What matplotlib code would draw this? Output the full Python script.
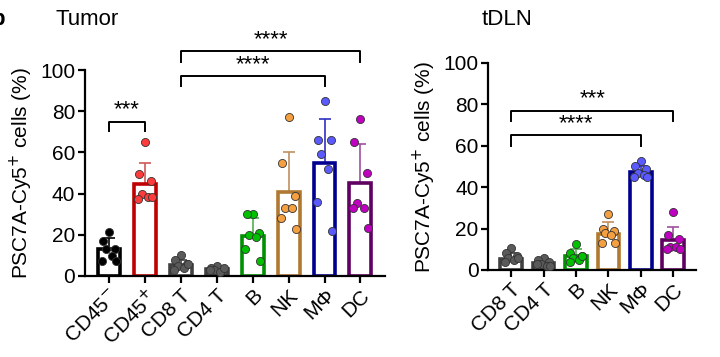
import numpy as np
import matplotlib
matplotlib.use("Agg")
import matplotlib.pyplot as plt

plt.rcParams["font.family"] = ["Liberation Sans", "DejaVu Sans"]

# ---- Tumor panel ----
tumor_cats = ["CD45$^{-}$", "CD45$^{+}$", "CD8 T", "CD4 T", "B", "NK", "MΦ", "DC"]
tumor_mean = [13, 44.5, 5.5, 3.5, 19.5, 41, 55, 45]
tumor_sd = [5.5, 10.3, 2.5, 1.2, 8.7, 19, 21, 19.3]
tumor_pts = [
    [21.5, 17, 13, 13, 9.5, 7.5, 7.5],
    [65, 49.5, 46, 40, 38.5, 37.5, 38.5],
    [10, 8, 6, 5, 4, 3, 6],
    [5, 4, 3, 3, 2, 3, 4],
    [30, 30, 21, 20, 19, 13, 7.5],
    [77, 55, 39, 33, 33, 28, 23],
    [85, 66, 66, 59, 52, 36, 22],
    [76, 65, 50, 35.5, 33, 33, 23.5],
]

# ---- tDLN panel ----
dln_cats = ["CD8 T", "CD4 T", "B", "NK", "MΦ", "DC"]
dln_mean = [5.5, 3.5, 7, 17.5, 47.5, 14.5]
dln_sd = [2.5, 1.5, 3, 5.5, 2.5, 6.5]
dln_pts = [
    [10.5, 8, 7, 6, 5, 4, 6],
    [6, 5, 4, 3, 2, 3, 2],
    [12.5, 8, 7, 6, 5, 4, 7],
    [27, 20, 19, 18, 17, 13, 13],
    [52.5, 50, 49, 47, 46, 45, 45],
    [28, 17, 15, 11, 11, 10, 10],
]

edge = {"CD45-": "#000000", "CD45+": "#c00000", "CD8 T": "#404040", "CD4 T": "#404040",
        "B": "#009000", "NK": "#b07830", "MΦ": "#000090", "DC": "#600060"}
face = {"CD45-": "#000000", "CD45+": "#ff3c3c", "CD8 T": "#5a5a5a", "CD4 T": "#5a5a5a",
        "B": "#00c000", "NK": "#f5a040", "MΦ": "#5a5aff", "DC": "#c000c0"}
errc = {"CD45-": "#000000", "CD45+": "#d05858", "CD8 T": "#404040", "CD4 T": "#404040",
        "B": "#50b050", "NK": "#c09060", "MΦ": "#3030c0", "DC": "#a050a0"}

tumor_keys = ["CD45-", "CD45+", "CD8 T", "CD4 T", "B", "NK", "MΦ", "DC"]
dln_keys = ["CD8 T", "CD4 T", "B", "NK", "MΦ", "DC"]

fig = plt.figure(figsize=(7.2, 3.57), dpi=100)
ax1 = fig.add_axes([0.118, 0.2269, 0.417, 0.577])
ax2 = fig.add_axes([0.678, 0.2437, 0.289, 0.580])


def draw(ax, keys, labels, means, sds, pts, width, xlim):
    x = np.arange(len(keys))
    for i, k in enumerate(keys):
        ax.bar(x[i], means[i], width=width, facecolor="white", edgecolor=edge[k],
               linewidth=2.6, zorder=2)
        ax.errorbar(x[i], means[i], yerr=sds[i], color=errc[k], capsize=4.5,
                    elinewidth=1.2, capthick=1.2, zorder=1)
        n = len(pts[i])
        offs = np.array([0.0, -0.17, 0.17, -0.09, 0.09, -0.2, 0.2])[:n]
        ax.scatter(x[i] + offs, pts[i], s=34, color=face[k], edgecolor="#333333",
                   linewidth=0.6, zorder=3, clip_on=False)
    ax.set_xlim(*xlim)
    ax.set_ylim(0, 100)
    ax.set_yticks([0, 20, 40, 60, 80, 100])
    ax.set_xticks(x)
    ax.set_xticklabels(labels, rotation=45, ha="right", rotation_mode="anchor")
    for s in ["top", "right"]:
        ax.spines[s].set_visible(False)
    for s in ["left", "bottom"]:
        ax.spines[s].set_linewidth(1.6)
    ax.tick_params(axis="both", width=1.6, length=5, labelsize=15, pad=2)
    ax.set_ylabel("PSC7A-Cy5$^{+}$ cells (%)", fontsize=15, labelpad=4)


def bracket(ax, x1, x2, y, drop, text):
    ax.plot([x1, x1, x2, x2], [y - drop, y, y, y - drop], color="black",
            linewidth=1.4, clip_on=False)
    ax.text((x1 + x2) / 2, y + 0.5, text, ha="center", va="bottom", fontsize=16,
            clip_on=False)


draw(ax1, tumor_keys, tumor_cats, tumor_mean, tumor_sd, tumor_pts, 0.61, (-0.67, 7.69))
draw(ax2, dln_keys, dln_cats, dln_mean, dln_sd, dln_pts, 0.67, (-0.71, 5.71))

bracket(ax1, 0, 1, 75, 4.5, "***")
bracket(ax1, 2, 6, 97, 5, "****")
bracket(ax1, 2, 7, 109, 5, "****")
bracket(ax2, 0, 5, 77, 5, "***")
bracket(ax2, 0, 4, 65, 5, "****")

fig.text(0.077, 0.945, "Tumor", fontsize=16, va="center")
fig.text(0.669, 0.945, "tDLN", fontsize=16, va="center")
fig.text(-0.012, 0.945, "b", fontsize=16, va="center", fontweight="bold")

fig.savefig("out.png", dpi=100)
